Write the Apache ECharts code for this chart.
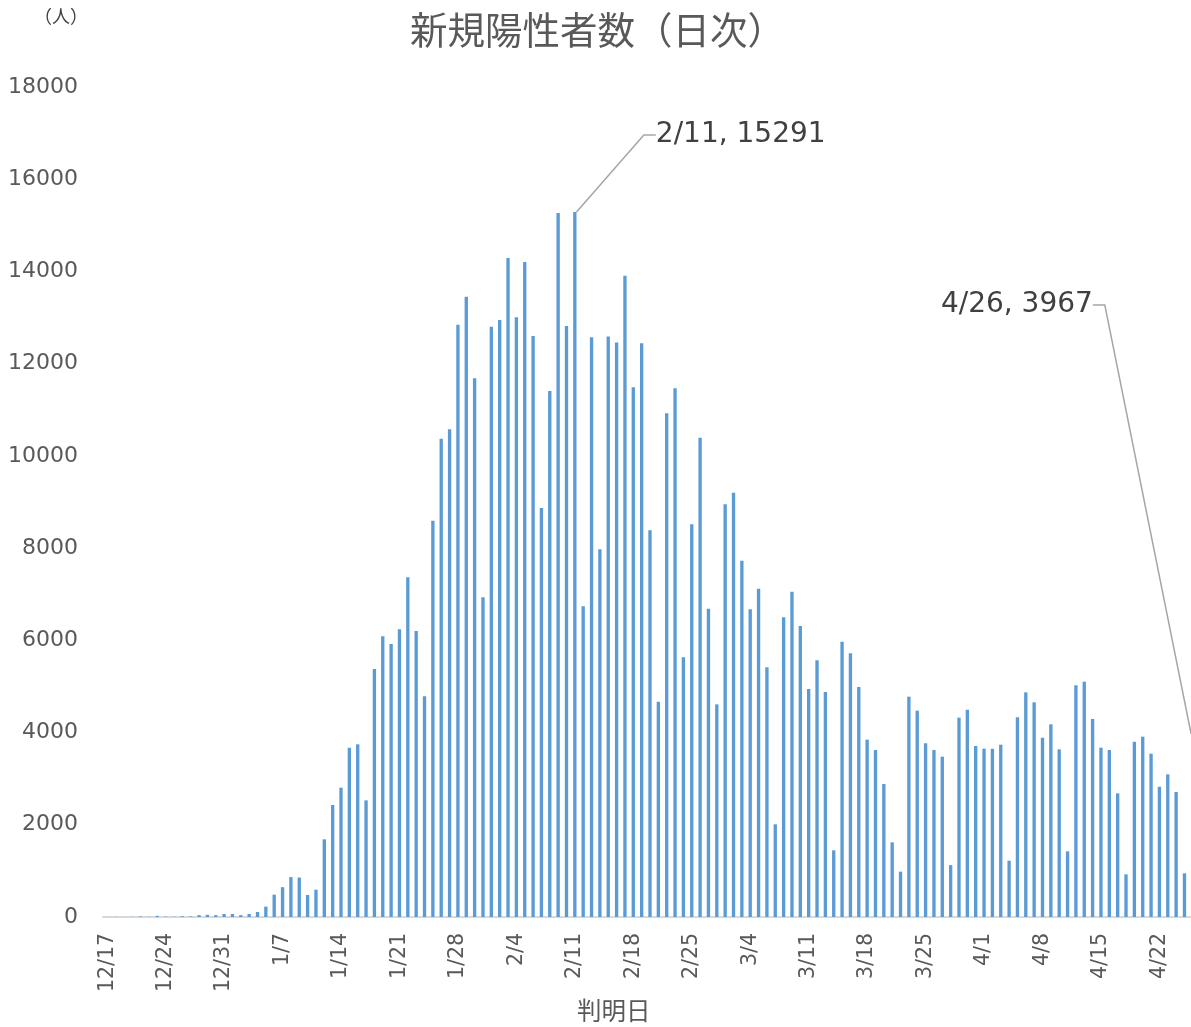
<!DOCTYPE html>
<html>
<head>
<meta charset="utf-8">
<script src="https://cdn.jsdelivr.net/npm/echarts@6/dist/echarts.min.js"></script>
<style>
  html, body { margin: 0; padding: 0; background: #fff; }
  #chart { width: 1191px; height: 1027px; }
</style>
</head>
<body>
<div id="chart"></div>
<script>
// 判明日: [month, first day, last day]
const monthSpans = [[12, 17, 31], [1, 1, 31], [2, 1, 28], [3, 1, 31], [4, 1, 26]];
const days = [];
monthSpans.forEach(([m, d0, d1]) => {
  for (let d = d0; d <= d1; d++) days.push(m + '/' + d);
});

// 新規陽性者数（日次）12/17 ~ 4/26
const newCases = [
  2, 3, 1, 4, 12, 5, 25, 8, 6, 18, 12, 40, 48, 40, 65,
  65, 40, 65, 108, 225, 485, 647, 865, 856, 477, 592, 1685, 2429, 2804, 3672,
  3745, 2530, 5378, 6087, 5921, 6239, 7367, 6202, 4786, 8595, 10373, 10576, 12845, 13453, 11683,
  6933, 12802, 12947, 14292, 13006, 14205, 12600, 8870, 11407, 15267, 12817, 15291, 6738, 12572, 7978,
  12590, 12460, 13908, 11487, 12442, 8386, 4670, 10923, 11466, 5632, 8516, 10395, 6686, 4612,
  8950, 9203, 7728, 6672, 7117, 5416, 2010, 6499, 7055, 6311, 4945, 5567, 4880, 1446, 5971,
  5719, 4988, 3846, 3622, 2884, 1619, 983, 4778, 4475, 3766, 3622, 3477, 1125, 4323, 4496,
  3709, 3651, 3651, 3737, 1221, 4330, 4872, 4656, 3889, 4179, 3636, 1424, 5025, 5103, 4294,
  3672, 3622, 2682, 925, 3802, 3911, 3542, 2826, 3094, 2711, 947, 3967
];

// 注記を付ける日
const calloutDays = ['2/11', '4/26'];

const numFont = "'DejaVu Sans', 'Noto Sans CJK JP', sans-serif";
const jpFont = "'Noto Sans CJK JP', sans-serif";

const chart = echarts.init(document.getElementById('chart'), null, { renderer: 'canvas' });

const seriesData = newCases.map((v, i) => {
  const day = days[i];
  if (!calloutDays.includes(day)) return v;
  const left = day === '2/11';
  return {
    value: v,
    label: {
      show: true,
      position: 'top',
      formatter: '{b}, {c}',
      fontFamily: numFont,
      fontSize: 28,
      color: '#404040',
      padding: left ? [0, 0, 0, 10] : [0, 10, 0, 0],
    },
    labelLine: {
      show: true,
      length2: 12,
      lineStyle: { color: '#a6a6a6', width: 1.5 },
    },
  };
});

chart.setOption({
  backgroundColor: '#fff',
  animation: false,
  title: [
    {
      text: '新規陽性者数（日次）',
      left: 410,
      top: 9,
      padding: 0,
      textStyle: { fontFamily: jpFont, fontSize: 37.5, fontWeight: 'normal', color: '#595959', lineHeight: 42 },
    },
    {
      text: '（人）',
      left: 34,
      top: 7,
      padding: 0,
      textStyle: { fontFamily: jpFont, fontSize: 18, fontWeight: 'normal', color: '#404040' },
    },
    {
      text: '判明日',
      left: 577,
      top: 996,
      padding: 0,
      textStyle: { fontFamily: jpFont, fontSize: 24.5, fontWeight: 'normal', color: '#595959', lineHeight: 30 },
    },
  ],
  grid: { left: 103, top: 87, width: 1094, height: 830, containLabel: false, outerBoundsMode: 'none' },
  xAxis: {
    type: 'category',
    data: days,
    axisLine: { lineStyle: { color: '#d9d9d9', width: 2 } },
    axisTick: { show: false },
    axisLabel: {
      interval: 6,
      rotate: 90,
      margin: 16,
      color: '#595959',
      fontFamily: numFont,
      fontSize: 20.5,
    },
  },
  yAxis: {
    type: 'value',
    min: 0,
    max: 18000,
    interval: 2000,
    axisLine: { show: false },
    axisTick: { show: false },
    splitLine: { show: false },
    axisLabel: {
      color: '#595959',
      fontFamily: numFont,
      fontSize: 22,
      margin: 25,
      formatter: (v) => String(v),
    },
  },
  series: [
    {
      name: '新規陽性者数',
      type: 'bar',
      barWidth: '40%',
      itemStyle: { color: '#5b9bd5' },
      data: seriesData,
      labelLayout: (params) => {
        const day = days[params.dataIndex];
        if (!calloutDays.includes(day)) return {};
        const cx = params.rect.x + params.rect.width / 2;
        const top = params.rect.y;
        if (day === '2/11') {
          return { x: cx + 71, y: top - 77, align: 'left', verticalAlign: 'middle' };
        }
        return { x: cx - 90, y: top - 429, align: 'right', verticalAlign: 'middle' };
      },
    },
  ],
});
</script>
</body>
</html>
